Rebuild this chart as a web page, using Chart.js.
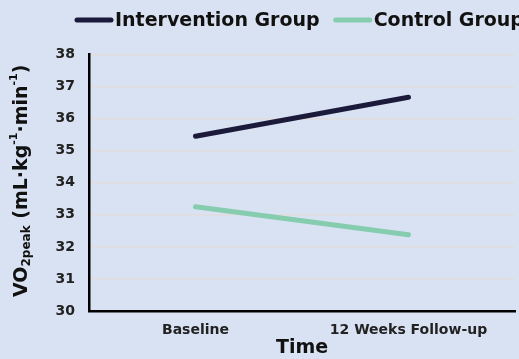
<!DOCTYPE html>
<html><head><meta charset="utf-8">
<script src="https://cdn.jsdelivr.net/npm/chart.js@4/dist/chart.umd.min.js"></script>
<style>html,body{margin:0;padding:0;background:#d9e2f2;}#wrap{width:519px;height:359px;}</style>
</head><body><div id="wrap"><canvas id="c" width="519" height="359"></canvas></div>
<script>
const categories = ["Baseline", "12 Weeks Follow-up"];
const seriesNames = ["Intervention Group", "Control Group"];
const interventionValues = [35.45, 36.67];
const controlValues = [33.25, 32.38];
const yTicks = [30, 31, 32, 33, 34, 35, 36, 37, 38];
const xTitle = "Time";
const yTitleParts = [["VO", "n"], ["2peak", "sub"], [" (mL·kg", "n"], ["-1", "sup"], ["·min", "n"], ["-1", "sup"], [")", "n"]];

const FONT = "'DejaVu Sans', Verdana, sans-serif";

const decorPlugin = {
  id: 'decor',
  afterDraw(chart) {
    const ctx = chart.ctx;
    const ca = chart.chartArea;
    // Y axis title with sub/superscripts
    const sizes = {n: 19, sub: 12, sup: 11};
    const shift = {n: 0, sub: 5, sup: -8};
    let total = 0;
    yTitleParts.forEach(([t, k]) => { ctx.font = 'bold ' + sizes[k] + 'px ' + FONT; total += ctx.measureText(t).width; });
    ctx.save();
    ctx.translate(22, (ca.top + ca.bottom) / 2 - 2);
    ctx.rotate(-Math.PI / 2);
    ctx.fillStyle = '#111';
    ctx.textBaseline = 'middle';
    let x = -total / 2;
    yTitleParts.forEach(([t, k]) => {
      ctx.font = 'bold ' + sizes[k] + 'px ' + FONT;
      ctx.fillText(t, x, shift[k]);
      x += ctx.measureText(t).width;
    });
    ctx.restore();
    // Legend
    ctx.save();
    ctx.font = 'bold 19px ' + FONT;
    ctx.textBaseline = 'middle';
    let lx = 75;
    const ly = 20;
    chart.data.datasets.forEach((ds) => {
      ctx.strokeStyle = ds.borderColor;
      ctx.lineWidth = 5;
      ctx.lineCap = 'round';
      ctx.beginPath();
      ctx.moveTo(lx + 2, ly);
      ctx.lineTo(lx + 36, ly);
      ctx.stroke();
      lx += 40;
      ctx.fillStyle = '#111';
      ctx.fillText(ds.label, lx, ly + 1);
      lx += ctx.measureText(ds.label).width + 14;
    });
    ctx.restore();
  }
};

new Chart(document.getElementById('c'), {
  type: 'line',
  data: {
    labels: categories,
    datasets: [
      {label: seriesNames[0], data: interventionValues, borderColor: '#1b1a3a', backgroundColor: '#1b1a3a', borderWidth: 5, pointRadius: 0, borderCapStyle: 'round'},
      {label: seriesNames[1], data: controlValues, borderColor: '#86cdb0', backgroundColor: '#86cdb0', borderWidth: 5, pointRadius: 0, borderCapStyle: 'round'}
    ]
  },
  options: {
    responsive: false,
    animation: false,
    devicePixelRatio: 1,
    layout: {padding: {left: 0, right: 4, top: 54.6, bottom: 0}},
    plugins: {
      legend: {display: false},
      tooltip: {enabled: false}
    },
    scales: {
      x: {
        offset: true,
        afterFit(s) { s.height = 48; },
        grid: {display: false, drawTicks: false},
        border: {color: '#000', width: 2.5},
        ticks: {color: '#222', font: {family: FONT, size: 14, weight: 'bold'}, padding: 11},
        title: {display: true, text: xTitle, color: '#111', font: {family: FONT, size: 19, weight: 'bold'}, padding: {top: 0, bottom: 0}}
      },
      y: {
        min: 30, max: 38,
        afterFit(s) { s.width = 89; },
        afterBuildTicks(s) { s.ticks = yTicks.map(v => ({value: v})); },
        grid: {color: '#e2dcdc', lineWidth: 1.5, drawTicks: false},
        border: {color: '#000', width: 2.5},
        ticks: {color: '#222', font: {family: FONT, size: 14, weight: 'bold'}, padding: 14}
      }
    }
  },
  plugins: [decorPlugin]
});
</script>
</body></html>
